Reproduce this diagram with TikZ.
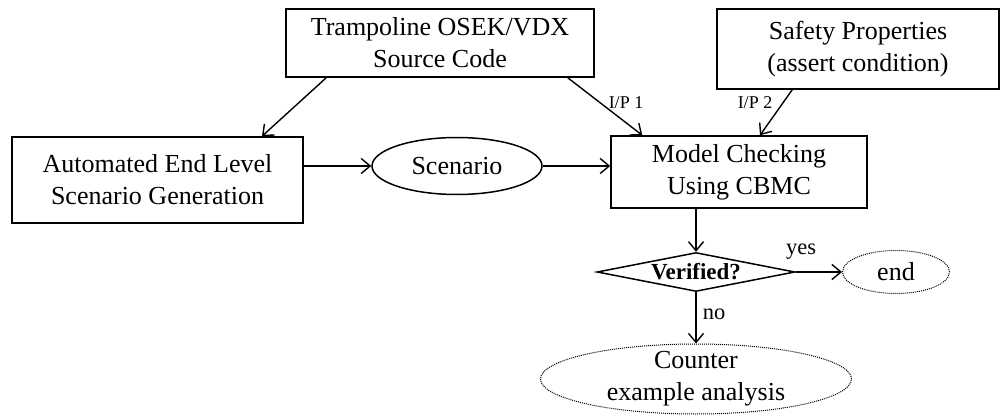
\documentclass[tikz,border=0pt]{standalone}
\usepackage{fontspec}
\setmainfont{Liberation Serif}
\usetikzlibrary{shapes.geometric,arrows.meta,calc}
\newcommand\mainsz{\fontsize{26}{32}\selectfont}
\newcommand\labsz{\fontsize{22.5}{26}\selectfont}
\newcommand\ipsz{\fontsize{18}{20}\selectfont}
\tikzset{
  box/.style={draw, line width=1.5pt, rectangle, inner sep=0pt, align=center, font=\mainsz},
  ell/.style={draw, line width=1.5pt, ellipse, inner sep=0pt, align=center, font=\mainsz},
  dotell/.style={draw, line width=1pt, dash pattern=on 1pt off 1pt, ellipse, inner sep=0pt, align=center, font=\mainsz},
  txt/.style={inner sep=0pt, align=center, font=\mainsz},
  lab/.style={inner sep=0pt, font=\labsz},
  iplab/.style={inner sep=0pt, font=\ipsz},
  arr/.style={line width=1.4pt, -{Straight Barb[length=9pt,width=15pt]}},
}
\begin{document}
\begin{tikzpicture}[x=1pt,y=-1pt]
\useasboundingbox (0,0) rectangle (1002,415);
\node[box, minimum width=308pt, minimum height=68pt] (src) at (440,43) {Trampoline OSEK/VDX\\Source Code};
\node[box, minimum width=282pt, minimum height=80pt] (safe) at (858,49) {Safety Properties\\(assert condition)};
\node[box, minimum width=291pt, minimum height=86pt] (auto) at (157.5,180) {Automated End Level\\Scenario Generation};
\node[ell, minimum width=170pt, minimum height=57pt] (scen) at (457,166) {Scenario};
\node[box, minimum width=256pt, minimum height=72pt] (mc) at (739,172) {Model Checking\\Using CBMC};
\node[diamond, draw, line width=1.5pt, minimum width=198pt, minimum height=39pt, inner sep=0pt] (ver) at (696,272) {};
\node[txt, font=\fontsize{23}{26}\selectfont\bfseries] (vertxt) at (ver) {Verified?};
\node[dotell, minimum width=107pt, minimum height=43pt] (end) at (896,272) {end};
\node[dotell, minimum width=311pt, minimum height=70pt] (ctr) at (696,379) {};
\node[txt] (ctrtxt) at (ctr) {Counter\\example analysis};

\draw[arr] ([xshift=41pt]src.south west) -- ([xshift=104.5pt]auto.north);
\draw[arr] ([xshift=-27pt]src.south east) -- ([xshift=32pt]mc.north west);
\draw[arr] ([xshift=76pt]safe.south west) -- ([xshift=21pt]mc.north);
\draw[arr] ([yshift=14pt]auto.east) -- (scen.west);
\draw[arr] (scen.east) -- (mc.west |- scen.east);
\draw[arr] (mc.south -| ver.north) -- (ver.north);
\draw[arr] (ver.east) -- (end.west);
\draw[arr] (ver.south) -- (ctr.north);

\node[iplab] (ip1) at (626,103) {I/P 1};
\node[iplab] (ip2) at (755,103) {I/P 2};
\node[lab] (yes) at (801,252) {yes};
\node[lab] (no) at (714,314) {no};
\end{tikzpicture}
\end{document}
